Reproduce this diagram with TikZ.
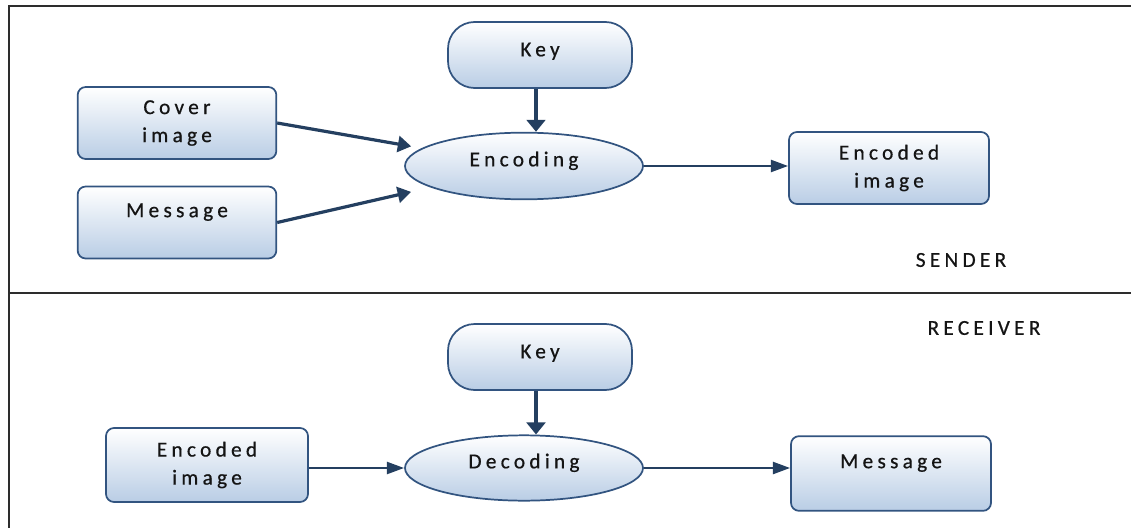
\documentclass[tikz,border=0pt]{standalone}
\usepackage{fontspec}
\newfontfamily\lbl[LetterSpace=20,FakeBold=0.6]{Carlito}
\usetikzlibrary{shapes.geometric,arrows.meta}
\definecolor{edgeblue}{RGB}{50,84,128}
\definecolor{fillblue}{RGB}{185,205,229}
\definecolor{arrowblue}{RGB}{36,63,96}
\definecolor{framegray}{RGB}{45,45,45}
\definecolor{inkblack}{RGB}{20,20,20}
\begin{document}
\begin{tikzpicture}[x=0.75pt,y=-0.75pt,
  lblfont/.style={font=\lbl\fontsize{16}{21}\selectfont, text=inkblack},
  box/.style={draw=edgeblue, line width=1.3pt, rounded corners=6pt,
    top color=white, bottom color=fillblue, minimum width=149pt,
    minimum height=54pt, align=center, inner sep=0pt, lblfont},
  keybox/.style={box, rounded corners=20pt, minimum width=138pt,
    minimum height=49.5pt, text height=10pt, text depth=8pt},
  topbox/.style={box, text height=10pt, text depth=18pt},
  oval/.style={ellipse, draw=edgeblue, line width=1.3pt, top color=white,
    bottom color=fillblue, minimum width=178.5pt, minimum height=50pt,
    inner sep=0pt, lblfont, text height=10pt, text depth=9.5pt},
  arr/.style={draw=arrowblue, line width=2.4pt,
    -{Triangle[length=10pt,width=12pt]}},
  keyarr/.style={draw=arrowblue, line width=3.2pt,
    -{Triangle[length=9pt,width=14pt]}},
  harr/.style={draw=arrowblue, line width=1.9pt,
    -{Triangle[length=13pt,width=9pt]}},
  frame/.style={draw=framegray, line width=1.5pt},
  tag/.style={lblfont, inner sep=0pt}]

\useasboundingbox (0,0) rectangle (1131,528);

% frame and the line between the two halves
\draw[frame] (8.5,528) -- (8.5,6) -- (1131,6);
\draw[frame] (8.5,293) -- (1131,293);

% sender side
\node[box] (cover) at (177,123) {Cover\\image};
\node[topbox] (msg) at (177,222.5) {Message};
\node[keybox] (key1) at (540,55) {Key};
\node[oval] (enc) at (524,166) {Encoding};
\node[box, minimum width=150pt] (encimg) at (889,168) {Encoded\\image};
\node[tag] (sender) at (961,260) {SENDER};

\draw[arr, shorten >=8pt] (cover.east) -- (enc);
\draw[arr, shorten >=15pt] (msg.east) -- (enc);
\draw[keyarr] ([xshift=-3pt]key1.south) -- ([xshift=-3pt]key1.south |- enc.north);
\draw[harr] (enc.east) -- (enc.east -| encimg.west);

% receiver side
\node[tag] (receiver) at (984,328) {RECEIVER};
\node[keybox] (key2) at (540,357) {Key};
\node[oval, minimum height=49pt] (dec) at (524,468) {Decoding};
\node[box, minimum width=151.5pt, minimum height=55.5pt] (encimg2) at (207,465) {Encoded\\image};
\node[topbox, minimum width=150pt, minimum height=56pt] (msg2) at (891,473.5) {Message};

\draw[keyarr] ([xshift=-3pt]key2.south) -- ([xshift=-3pt]key2.south |- dec.north);
\draw[harr] (encimg2.east |- dec.west) -- (dec.west);
\draw[harr] (dec.east) -- (dec.east -| msg2.west);
\end{tikzpicture}
\end{document}
